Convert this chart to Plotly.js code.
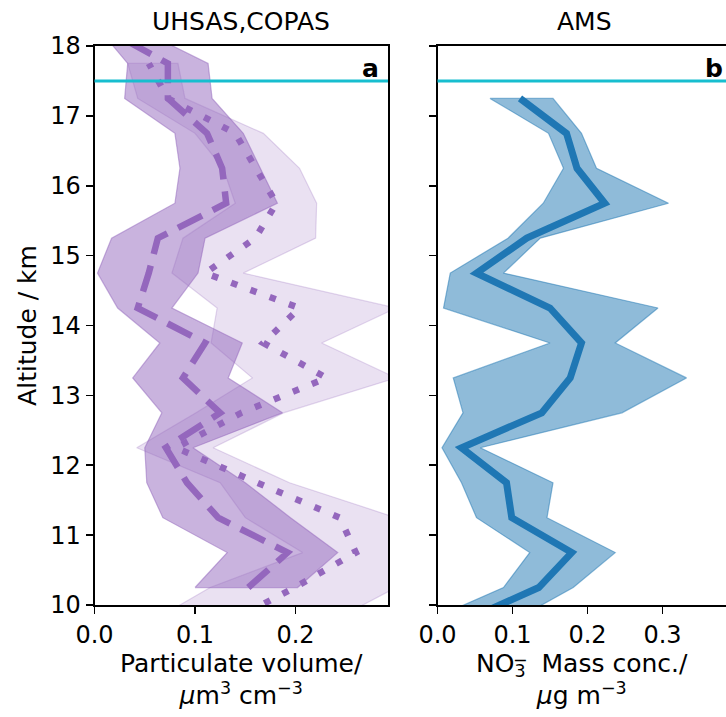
<!DOCTYPE html>
<html><head><meta charset="utf-8">
<script src="https://cdn.plot.ly/plotly-3.0.1.min.js"></script>
<style>html,body{margin:0;padding:0;background:#fff;} #chart{width:726px;height:717px;}</style>
</head><body><div id="chart"></div>
<script>
// ---- Panel a: UHSAS (dashed) ----
const altUhsas = [10.25, 10.75, 11.25, 11.75, 12.25, 12.75, 13.25, 13.75, 14.25, 14.75, 15.25, 15.75, 16.25, 16.75, 17.25, 17.75, 18.25];
const uhsasMedian = [0.153, 0.192, 0.123, 0.092, 0.071, 0.125, 0.088, 0.110, 0.043, 0.054, 0.063, 0.131, 0.127, 0.112, 0.073, 0.073, 0.010];
const uhsasLow    = [0.100, 0.132, 0.068, 0.052, 0.050, 0.067, 0.038, 0.065, 0.023, 0.003, 0.017, 0.080, 0.085, 0.080, 0.030, 0.033, 0.004];
const uhsasHigh   = [0.202, 0.242, 0.195, 0.150, 0.098, 0.187, 0.133, 0.147, 0.077, 0.103, 0.110, 0.182, 0.165, 0.148, 0.117, 0.113, 0.043];

// ---- Panel a: COPAS (dotted) ----
const altCopas = [9.75, 10.25, 10.75, 11.25, 11.75, 12.25, 12.75, 13.25, 13.75, 14.25, 14.75, 15.25, 15.75, 16.25, 16.75, 17.25, 17.75];
const copasMedian = [0.133, 0.199, 0.260, 0.244, 0.162, 0.081, 0.146, 0.231, 0.168, 0.204, 0.110, 0.160, 0.181, 0.161, 0.140, 0.073, 0.054];
const copasLow    = [0.055, 0.115, 0.207, 0.150, 0.125, 0.042, 0.101, 0.157, 0.116, 0.122, 0.077, 0.088, 0.140, 0.128, 0.100, 0.043, 0.033];
const copasHigh   = [0.234, 0.300, 0.300, 0.300, 0.194, 0.118, 0.188, 0.300, 0.226, 0.300, 0.148, 0.220, 0.221, 0.204, 0.168, 0.090, 0.083];

// ---- Panel b: AMS nitrate ----
const altAms = [9.75, 10.25, 10.75, 11.25, 11.75, 12.25, 12.75, 13.25, 13.75, 14.25, 14.75, 15.25, 15.75, 16.25, 16.75, 17.25];
const amsMedian = [0.031, 0.135, 0.179, 0.099, 0.092, 0.032, 0.139, 0.177, 0.192, 0.150, 0.052, 0.119, 0.223, 0.186, 0.172, 0.110];
const amsLow    = [-0.018, 0.088, 0.123, 0.052, 0.032, 0.006, 0.034, 0.021, 0.150, 0.008, 0.017, 0.094, 0.141, 0.168, 0.148, 0.070];
const amsHigh   = [0.097, 0.181, 0.237, 0.146, 0.154, 0.057, 0.246, 0.332, 0.237, 0.294, 0.088, 0.137, 0.308, 0.212, 0.192, 0.154];

const ceilingAlt = 17.5;
const yTicks = [10, 11, 12, 13, 14, 15, 16, 17, 18];
const xTicksA = [0, 0.1, 0.2];
const xTicksB = [0, 0.1, 0.2, 0.3];

const PURPLE = '#9467bd';
const BLUE = '#1f77b4';

function band(alt, lo, hi, xa, ya, fill, edge) {
  return {
    x: lo.concat(hi.slice().reverse(), [lo[0]]),
    y: alt.concat(alt.slice().reverse(), [alt[0]]),
    xaxis: xa, yaxis: ya, mode: 'lines', fill: 'toself',
    fillcolor: fill, line: {color: edge, width: 1.2},
    hoverinfo: 'skip', showlegend: false
  };
}

const traces = [
  band(altUhsas, uhsasLow, uhsasHigh, 'x', 'y', 'rgba(148,103,189,0.5)', 'rgba(148,103,189,0.5)'),
  band(altCopas, copasLow, copasHigh, 'x', 'y', 'rgba(148,103,189,0.2)', 'rgba(148,103,189,0.25)'),
  {x: uhsasMedian, y: altUhsas, xaxis: 'x', yaxis: 'y', mode: 'lines',
   line: {color: PURPLE, width: 6.5, dash: '27px,12px'}, showlegend: false},
  {x: copasMedian, y: altCopas, xaxis: 'x', yaxis: 'y', mode: 'lines',
   line: {color: PURPLE, width: 6.5, dash: '6.5px,14px'}, showlegend: false},
  band(altAms, amsLow, amsHigh, 'x2', 'y2', 'rgba(31,119,180,0.5)', 'rgba(31,119,180,0.5)'),
  {x: amsMedian, y: altAms, xaxis: 'x2', yaxis: 'y2', mode: 'lines',
   line: {color: BLUE, width: 7}, showlegend: false}
];

const axisCommon = {
  showgrid: false, zeroline: false, showline: true, linecolor: 'black', linewidth: 2,
  ticks: 'outside', ticklen: 7, tickwidth: 1.6, tickcolor: 'black',
  tickfont: {size: 24, color: 'black'}
};

const W = 726, H = 717;
const yDom = [(H - 605) / H, (H - 46) / H];
const LBL = 25;

const layout = {
  width: W, height: H,
  margin: {l: 0, r: 0, t: 0, b: 0},
  paper_bgcolor: 'white', plot_bgcolor: 'white',
  font: {family: 'DejaVu Sans', color: 'black'},
  showlegend: false,
  xaxis: Object.assign({}, axisCommon, {
    domain: [94.5 / W, 388 / W], range: [0, 0.292], anchor: 'y', mirror: true,
    tickvals: xTicksA, ticktext: xTicksA.map(v => v.toFixed(1)),
    title: {text: 'Particulate volume/<br><i>μ</i>m<sup>3</sup> cm<sup>−3</sup>', font: {size: LBL}, standoff: 6}
  }),
  yaxis: Object.assign({}, axisCommon, {
    domain: yDom, range: [10, 18], anchor: 'x', mirror: true,
    tickvals: yTicks, ticktext: yTicks.map(String),
    title: {text: 'Altitude / km', font: {size: LBL}, standoff: 6}
  }),
  xaxis2: Object.assign({}, axisCommon, {
    domain: [437.5 / W, 1], range: [0, 0.3847], anchor: 'y2', mirror: true,
    tickvals: xTicksB, ticktext: xTicksB.map(v => v.toFixed(1)),
    title: {text: 'NO<sub>3</sub>&nbsp; Mass conc./<br><i>μ</i>g m<sup>−3</sup>', font: {size: LBL}, standoff: 6}
  }),
  yaxis2: Object.assign({}, axisCommon, {
    domain: yDom, range: [10, 18], anchor: 'x2', mirror: false,
    tickvals: yTicks, showticklabels: false
  }),
  shapes: [
    {type: 'line', xref: 'x domain', x0: 0, x1: 1, yref: 'y', y0: ceilingAlt, y1: ceilingAlt,
     line: {color: '#17becf', width: 3}, layer: 'above'},
    {type: 'line', xref: 'x2 domain', x0: 0, x1: 1, yref: 'y2', y0: ceilingAlt, y1: ceilingAlt,
     line: {color: '#17becf', width: 3}, layer: 'above'}
  ],
  annotations: [
    {text: 'UHSAS,COPAS', xref: 'paper', x: 241 / W, yref: 'paper', y: 1 - 22 / H,
     showarrow: false, xanchor: 'center', yanchor: 'middle', font: {size: LBL}},
    {text: 'AMS', xref: 'paper', x: 584 / W, yref: 'paper', y: 1 - 22 / H,
     showarrow: false, xanchor: 'center', yanchor: 'middle', font: {size: LBL}},
    {text: '<b>a</b>', xref: 'x domain', x: 0.975, yref: 'y domain', y: 0.99,
     showarrow: false, xanchor: 'right', yanchor: 'top', font: {size: 25}},
    {text: '<b>b</b>', xref: 'x2 domain', x: 0.995, yref: 'y2 domain', y: 0.99,
     showarrow: false, xanchor: 'right', yanchor: 'top', font: {size: 25}},
    {text: '−', xref: 'paper', x: 520 / W, yref: 'paper', y: 1 - 660 / H,
     showarrow: false, xanchor: 'center', yanchor: 'middle', font: {size: 17.5}}
  ]
};

Plotly.newPlot('chart', traces, layout, {displayModeBar: false, staticPlot: true});
</script>
</body></html>
